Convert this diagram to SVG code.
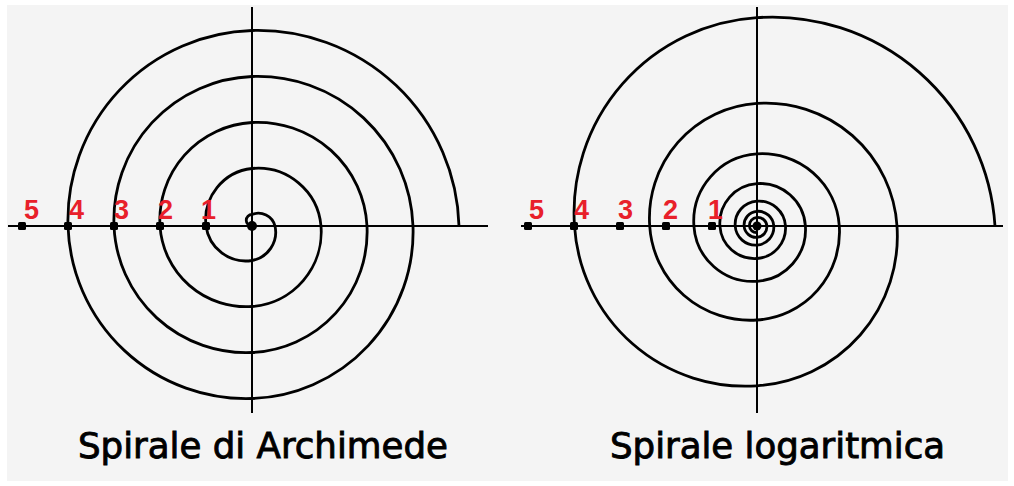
<svg xmlns="http://www.w3.org/2000/svg" width="1014" height="486" viewBox="0 0 1014 486">
<style>
.axis{stroke:#000;stroke-width:2;fill:none}
.spiral{stroke:#000;stroke-width:2.8;fill:none;stroke-linejoin:round}
.pt{fill:#000}
.num{font-family:"Liberation Sans",Arial,sans-serif;font-weight:bold;font-size:27px;fill:#e8202a}
.title{font-family:"DejaVu Sans",Verdana,sans-serif;font-size:35px;fill:#000;stroke:#000;stroke-width:0.9}
</style>
<rect x="0" y="0" width="1014" height="486" fill="#fff"/>
<rect x="7" y="5" width="1001" height="476" fill="#f4f4f4"/>

<g id="archimede">
  <g id="archimede-axes">
    <line class="axis" x1="8" y1="226" x2="488" y2="226"/>
    <line class="axis" x1="252" y1="7" x2="252" y2="413"/>
  </g>
  <path class="spiral" d="M252,226 A5.75,5.75 0 0 1 252,214.5 A17.25,17.25 0 0 1 275,226 A28.75,28.75 0 0 1 252,260.5 A40.25,40.25 0 0 1 206,226 A51.75,51.75 0 0 1 252,168.5 A63.25,63.25 0 0 1 321,226 A74.75,74.75 0 0 1 252,306.5 A86.25,86.25 0 0 1 160,226 A97.75,97.75 0 0 1 252,122.5 A109.25,109.25 0 0 1 367,226 A120.75,120.75 0 0 1 252,352.5 A132.25,132.25 0 0 1 114,226 A143.75,143.75 0 0 1 252,76.5 A155.25,155.25 0 0 1 413,226 A166.75,166.75 0 0 1 252,398.5 A178.25,178.25 0 0 1 68,226 A189.75,189.75 0 0 1 252,30.5 A201.25,201.25 0 0 1 459,226"/>
  <g id="archimede-points">
    <rect class="pt" x="18" y="222" width="8" height="8" rx="1.5"/>
    <rect class="pt" x="64" y="222" width="8" height="8" rx="1.5"/>
    <rect class="pt" x="110" y="222" width="8" height="8" rx="1.5"/>
    <rect class="pt" x="156" y="222" width="8" height="8" rx="1.5"/>
    <rect class="pt" x="202" y="222" width="8" height="8" rx="1.5"/>
    <circle class="pt" cx="252" cy="226" r="5"/>
  </g>
  <g id="archimede-labels">
    <text class="num" x="24" y="219">5</text>
    <text class="num" x="69" y="219">4</text>
    <text class="num" x="114" y="219">3</text>
    <text class="num" x="158" y="219">2</text>
    <text class="num" x="201" y="219">1</text>
  </g>
  <text id="archimede-title" class="title" x="78" y="458" textLength="370" lengthAdjust="spacingAndGlyphs">Spirale di Archimede</text>
</g>

<g id="logaritmica">
  <g id="logaritmica-axes">
    <line class="axis" x1="521" y1="226" x2="1003" y2="226"/>
    <line class="axis" x1="757" y1="7" x2="757" y2="413"/>
  </g>
  <path class="spiral" d="M757,232.6 A7.1,7.1 0 0 1 749.4,226 A8.1,8.1 0 0 1 757,217.4 A9.25,9.25 0 0 1 766.9,226 A10.6,10.6 0 0 1 757,237.3 A12.1,12.1 0 0 1 744.1,226 A13.8,13.8 0 0 1 757,211.3 A15.75,15.75 0 0 1 773.8,226 A17.95,17.95 0 0 1 757,245.1 A20.45,20.45 0 0 1 735.2,226 A23.35,23.35 0 0 1 757,201.1 A26.7,26.7 0 0 1 785.5,226 A30.5,30.5 0 0 1 757,258.5 A34.8,34.8 0 0 1 719.9,226 A39.75,39.75 0 0 1 757,183.6 A45.4,45.4 0 0 1 805.4,226 A51.85,51.85 0 0 1 757,281.3 A59.2,59.2 0 0 1 693.9,226 A67.6,67.6 0 0 1 757,153.9 A77.2,77.2 0 0 1 839.3,226 A88.15,88.15 0 0 1 757,320 A100.65,100.65 0 0 1 649.7,226 A114.95,114.95 0 0 1 757,103.4 A131.3,131.3 0 0 1 897,226 A149.9,149.9 0 0 1 757,385.8 A171.15,171.15 0 0 1 574.5,226 A195.45,195.45 0 0 1 757,17.6 A223.2,223.2 0 0 1 995,226"/>
  <g id="logaritmica-points">
    <rect class="pt" x="524" y="222" width="8" height="8" rx="1.5"/>
    <rect class="pt" x="570" y="222" width="8" height="8" rx="1.5"/>
    <rect class="pt" x="616" y="222" width="8" height="8" rx="1.5"/>
    <rect class="pt" x="662" y="222" width="8" height="8" rx="1.5"/>
    <rect class="pt" x="708" y="222" width="8" height="8" rx="1.5"/>
    <circle class="pt" cx="757" cy="226" r="4.5"/>
  </g>
  <g id="logaritmica-labels">
    <text class="num" x="529" y="219">5</text>
    <text class="num" x="574" y="219">4</text>
    <text class="num" x="618" y="219">3</text>
    <text class="num" x="663" y="219">2</text>
    <text class="num" x="708" y="219">1</text>
  </g>
  <text id="logaritmica-title" class="title" x="610" y="458" textLength="335" lengthAdjust="spacingAndGlyphs">Spirale logaritmica</text>
</g>
</svg>
